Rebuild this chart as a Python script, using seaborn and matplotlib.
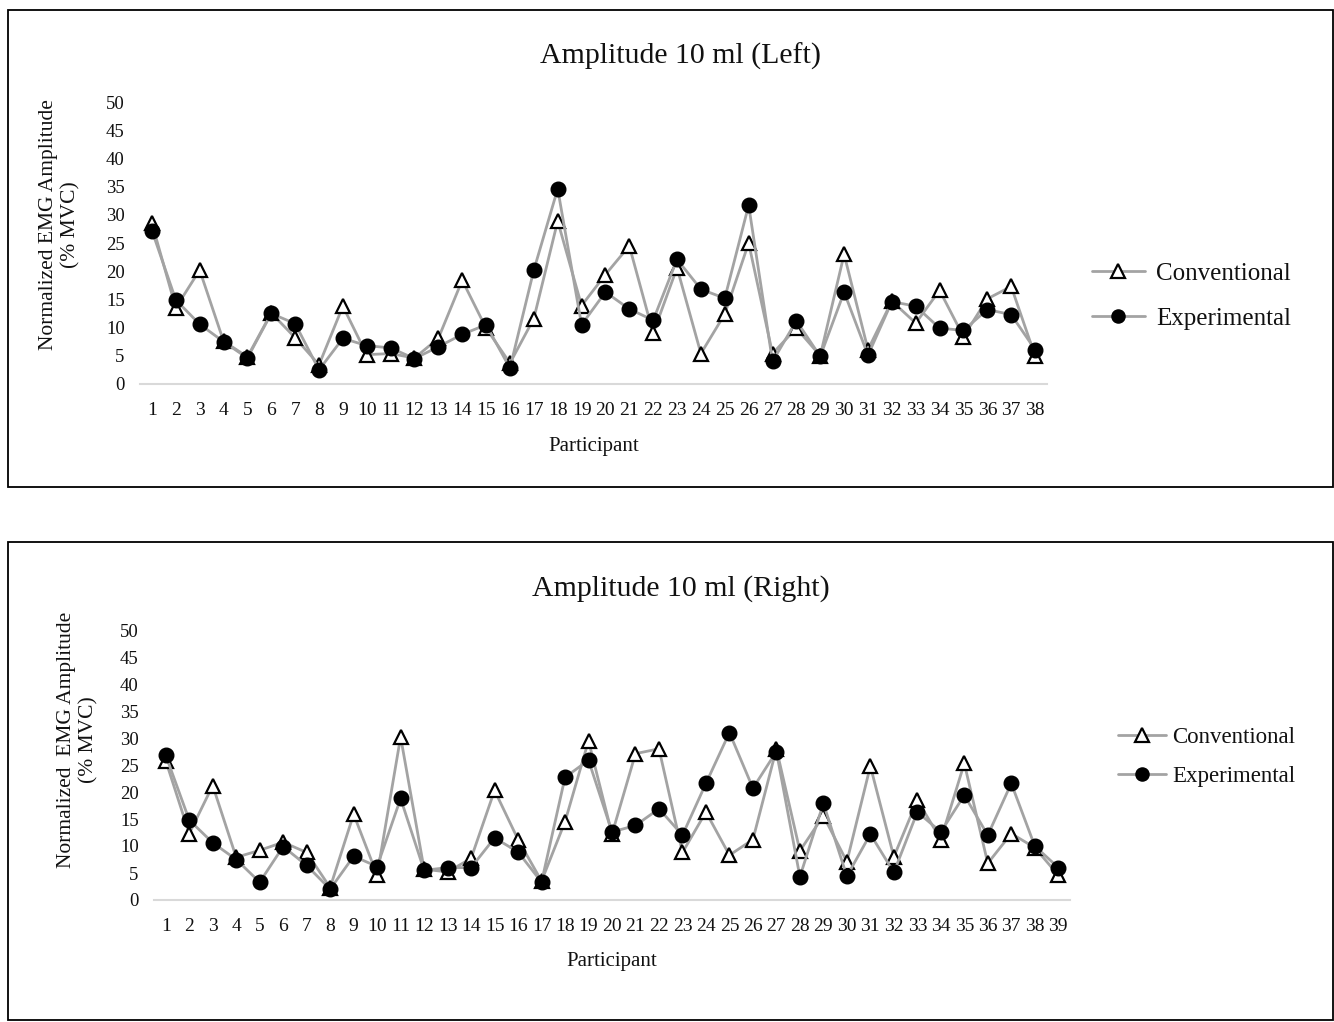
import numpy as np
import pandas as pd
import matplotlib
matplotlib.use("Agg")
import matplotlib.pyplot as plt
import seaborn as sns
from matplotlib.patches import Rectangle

# ---------------- data ----------------
left_participants = list(range(1, 39))
left_conventional = [28.5, 13.5, 20.2, 7.6, 4.8, 12.6, 8.2, 3.4, 13.8, 5.2,
                     5.4, 4.6, 8.1, 18.4, 9.9, 3.7, 11.6, 28.9, 13.9, 19.4,
                     24.5, 9.0, 20.6, 5.4, 12.4, 25.0, 5.4, 9.9, 5.0, 23.0,
                     6.1, 14.7, 10.8, 16.6, 8.4, 15.1, 17.3, 5.0]
left_experimental = [27.2, 14.9, 10.6, 7.5, 4.6, 12.5, 10.7, 2.5, 8.1, 6.8,
                     6.4, 4.5, 6.6, 8.8, 10.5, 2.8, 20.2, 34.6, 10.5, 16.3,
                     13.3, 11.3, 22.1, 16.8, 15.2, 31.7, 4.0, 11.2, 4.9, 16.3,
                     5.1, 14.6, 13.8, 9.9, 9.5, 13.2, 12.3, 6.1]

right_participants = list(range(1, 40))
right_conventional = [25.8, 12.3, 21.2, 7.9, 9.2, 10.7, 8.8, 2.3, 15.9, 4.6,
                      30.2, 5.7, 5.2, 7.7, 20.3, 11.2, 3.5, 14.5, 29.5, 12.2,
                      27.1, 28.0, 8.8, 16.3, 8.3, 11.2, 28.0, 9.1, 15.6, 7.1,
                      24.8, 8.0, 18.5, 11.2, 25.3, 6.8, 12.3, 9.7, 4.6]
right_experimental = [26.8, 14.8, 10.6, 7.5, 3.3, 9.9, 6.4, 2.0, 8.1, 6.2,
                      18.8, 5.5, 6.0, 6.0, 11.5, 8.9, 3.3, 22.7, 25.9, 12.6,
                      13.8, 16.9, 12.0, 21.6, 31.0, 20.7, 27.5, 4.3, 17.9, 4.4,
                      12.2, 5.1, 16.3, 12.6, 19.4, 12.0, 21.6, 10.0, 6.0]

y_ticks = [0, 5, 10, 15, 20, 25, 30, 35, 40, 45, 50]
series_names = ["Conventional", "Experimental"]

# ---------------- style ----------------
sns.set_theme(style="white")
plt.rcParams["font.family"] = ["Liberation Serif", "DejaVu Serif"]

W, H = 1334, 1022
fig = plt.figure(figsize=(W / 100, H / 100), dpi=100)

LINE_C = "#a3a3a3"
AXIS_C = "#d9d9d9"
TXT_C = "#111111"


def fx(px):
    return px / W


def fy(py):
    return 1 - py / H


def panel(ax_rect, parts, conv, expe, title, title_xy, xlab_xy, ylab_xy,
          ylab_text, leg_xy, leg_fs, leg_spacing, leg_tpad):
    ax = fig.add_axes(ax_rect)
    df = pd.DataFrame({
        "Participant": parts * 2,
        "Value": conv + expe,
        "Group": [series_names[0]] * len(parts) + [series_names[1]] * len(parts),
    })
    sns.lineplot(data=df[df.Group == series_names[0]], x="Participant", y="Value",
                 ax=ax, color=LINE_C, lw=2.0, marker="^", markersize=10.5,
                 markerfacecolor="white", markeredgecolor="black",
                 markeredgewidth=1.6, label=series_names[0], legend=False)
    sns.lineplot(data=df[df.Group == series_names[1]], x="Participant", y="Value",
                 ax=ax, color=LINE_C, lw=2.0, marker="o", markersize=10.5,
                 markerfacecolor="black", markeredgecolor="black",
                 markeredgewidth=1.0, label=series_names[1], legend=False)
    n = len(parts)
    ax.set_xlim(0.5, n + 0.5)
    ax.set_ylim(0, 50)
    ax.set_xticks(parts)
    ax.set_xticklabels([str(p) for p in parts])
    ax.set_yticks(y_ticks)
    ax.set_xlabel("")
    ax.set_ylabel("")
    for s in ["top", "right", "left"]:
        ax.spines[s].set_visible(False)
    ax.spines["bottom"].set_color(AXIS_C)
    ax.spines["bottom"].set_linewidth(1.5)
    ax.spines["bottom"].set_zorder(0)
    ax.tick_params(axis="x", length=0, pad=13, labelsize=14, colors=TXT_C)
    ax.tick_params(axis="y", length=0, pad=11, labelsize=13.5, colors=TXT_C)
    ax.set_facecolor("white")
    for l in ax.lines:
        l.set_clip_on(False)

    fig.text(fx(title_xy[0]), fy(title_xy[1]), title, ha="center", va="center",
             fontsize=21.5, color=TXT_C)
    fig.text(fx(xlab_xy[0]), fy(xlab_xy[1]), "Participant", ha="center",
             va="center", fontsize=15, color=TXT_C)
    fig.text(fx(ylab_xy[0]), fy(ylab_xy[1]), ylab_text, ha="center",
             va="center", rotation=90, fontsize=15.5, linespacing=1.25,
             multialignment="center", color=TXT_C)

    handles, labels = ax.get_legend_handles_labels()
    leg = fig.legend(handles, labels, loc="center left",
                     bbox_to_anchor=(fx(leg_xy[0]), fy(leg_xy[1])),
                     bbox_transform=fig.transFigure, frameon=False,
                     fontsize=leg_fs, borderpad=0, borderaxespad=0,
                     handlelength=2.1, handletextpad=leg_tpad,
                     labelspacing=leg_spacing, markerscale=0.9)
    for t in leg.get_texts():
        t.set_color(TXT_C)
    return ax


# top panel
panel([fx(140), fy(384), fx(1047) - fx(140), fy(102) - fy(384)],
      left_participants, left_conventional, left_experimental,
      "Amplitude 10 ml (Left)", (680, 56), (594, 446), (60, 225),
      "Normalized EMG Amplitude\n(% MVC)", (1092, 296), 18, 0.88, 0.45)

# bottom panel
panel([fx(154), fy(900), fx(1070) - fx(154), fy(630) - fy(900)],
      right_participants, right_conventional, right_experimental,
      "Amplitude 10 ml (Right)", (681, 589), (612, 961), (78, 740),
      "Normalized  EMG Amplitude\n(% MVC)", (1118, 757), 16.5, 0.8, 0.25)

# panel borders
for (x0, y0, x1, y1) in [(8, 10, 1333, 487), (8, 542, 1333, 1020)]:
    fig.add_artist(Rectangle((fx(x0), fy(y1)), fx(x1) - fx(x0), fy(y0) - fy(y1),
                             transform=fig.transFigure, fill=False,
                             edgecolor="black", linewidth=1.3))

fig.savefig("out.png", dpi=100, facecolor="white")
